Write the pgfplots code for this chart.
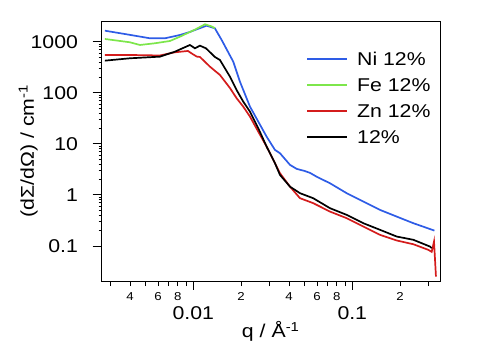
\documentclass[border=0pt]{standalone}
\usepackage{fontspec}
\setmainfont{Liberation Sans}[FakeStretch=1.15]
\usepackage{pgfplots}
\pgfplotsset{compat=1.18}
\definecolor{niblue}{RGB}{46,92,230}
\definecolor{fegreen}{RGB}{125,230,75}
\definecolor{znred}{RGB}{212,28,28}
\newcommand{\bigf}{\fontsize{18.5bp}{20bp}\selectfont}
\newcommand{\smlf}{\fontsize{11.5bp}{12bp}\selectfont}
\begin{document}
\begin{tikzpicture}
\path[use as bounding box] (0,0) rectangle (477bp,346bp);
\begin{axis}[
  at={(101.5bp,65bp)}, anchor=south west,
  scale only axis, width=338.5bp, height=260bp,
  xmode=log, ymode=log,
  xmin=0.00265, xmax=0.356, ymin=0.0206, ymax=2541,
  axis line style={line width=0.8bp},
  tick style={line width=0.8bp, black},
  tick align=outside, xtick pos=bottom, ytick pos=left,
  major tick length=9bp,
  minor xtick={}, minor ytick={},
  ytick={0.1,1,10,100,1000},
  yticklabels={0.1,1,10,100,1000},
  yticklabel style={font=\bigf, xshift=-11bp},
  xtick={0.01,0.1},
  xticklabels={0.01,0.1},
  xticklabel style={font=\bigf, yshift=-13bp},
  extra x ticks={0.003,0.004,0.005,0.006,0.007,0.008,0.009,0.02,0.03,0.04,0.05,0.06,0.07,0.08,0.09,0.2,0.3},
  extra x tick labels={,4,,6,,8,,2,,4,,6,,8,,2,},
  extra x tick style={major tick length=5bp, xticklabel style={font=\smlf, yshift=10bp}},
  xlabel={q / Å\textsuperscript{-1}},
  ylabel={(dΣ/dΩ) / cm\textsuperscript{-1}},
  label style={font=\bigf},
  xlabel style={yshift=19bp},
  ylabel style={yshift=-14bp},
  legend style={draw=none, fill=none, at={(0.605,0.88)}, anchor=north west,
    font=\bigf, row sep=13bp, inner sep=0pt,
    nodes={inner sep=0pt, text height=13bp, text depth=0bp},
    /tikz/every odd column/.append style={column sep=9bp}},
  legend cell align=left,
  legend image code/.code={\draw[#1] (0bp,0bp) -- (40bp,0bp);},
  every axis plot/.append style={line width=1.7bp},
]
\addplot[niblue] table {
0.002784 1641
0.0040 1359
0.00535 1165
0.00664 1165
0.00825 1352
0.00953 1549
0.01025 1694
0.01214 2056
0.01368 1829
0.01509 1080
0.01785 406
0.01966 165
0.02274 53.5
0.02564 27.2
0.02894 13.8
0.03265 7.6
0.0351 6.55
0.04058 3.87
0.0447 3.23
0.0500 2.95
0.0542 2.70
0.0600 2.25
0.0724 1.69
0.0922 1.08
0.1173 0.74
0.1494 0.508
0.1902 0.376
0.2421 0.279
0.3283 0.200
};
\addlegendentry{Ni 12\%}
\addplot[fegreen] table {
0.002784 1130
0.0040 973
0.00462 862
0.00574 931
0.00714 1032
0.00825 1253
0.00953 1549
0.01025 1720
0.01185 2190
0.01300 2000
0.01368 1840
};
\addlegendentry{Fe 12\%}
\addplot[znred] table {
0.002784 549
0.0040 549
0.00617 537
0.00767 620
0.00926 658
0.00996 567
0.01055 509
0.01102 502
0.01274 324
0.01472 223
0.01701 124
0.01875 78
0.02063 53.5
0.02274 34.1
0.02564 17.3
0.02894 8.81
0.03265 4.17
0.0351 2.66
0.04058 1.45
0.0469 0.861
0.0568 0.689
0.0724 0.471
0.0922 0.350
0.1173 0.240
0.1494 0.165
0.1902 0.128
0.2421 0.108
0.3006 0.0839
0.3157 0.0767
0.3265 0.122
0.3358 0.0252
};
\addlegendentry{Zn 12\%}
\addplot[black] table {
0.002784 425
0.0040 473
0.00617 509
0.00767 637
0.00953 862
0.01025 743
0.01102 835
0.01202 743
0.01368 502
0.01472 438
0.01701 207
0.01875 113
0.02063 67
0.02274 42.7
0.02564 20.2
0.02894 8.81
0.03265 4.17
0.0351 2.46
0.04058 1.45
0.0469 1.08
0.0568 0.861
0.0724 0.549
0.0922 0.406
0.1173 0.279
0.1494 0.207
0.1902 0.153
0.2421 0.132
0.3081 0.0973
0.3157 0.0906
};
\addlegendentry{12\%}
\end{axis}
\end{tikzpicture}
\end{document}
